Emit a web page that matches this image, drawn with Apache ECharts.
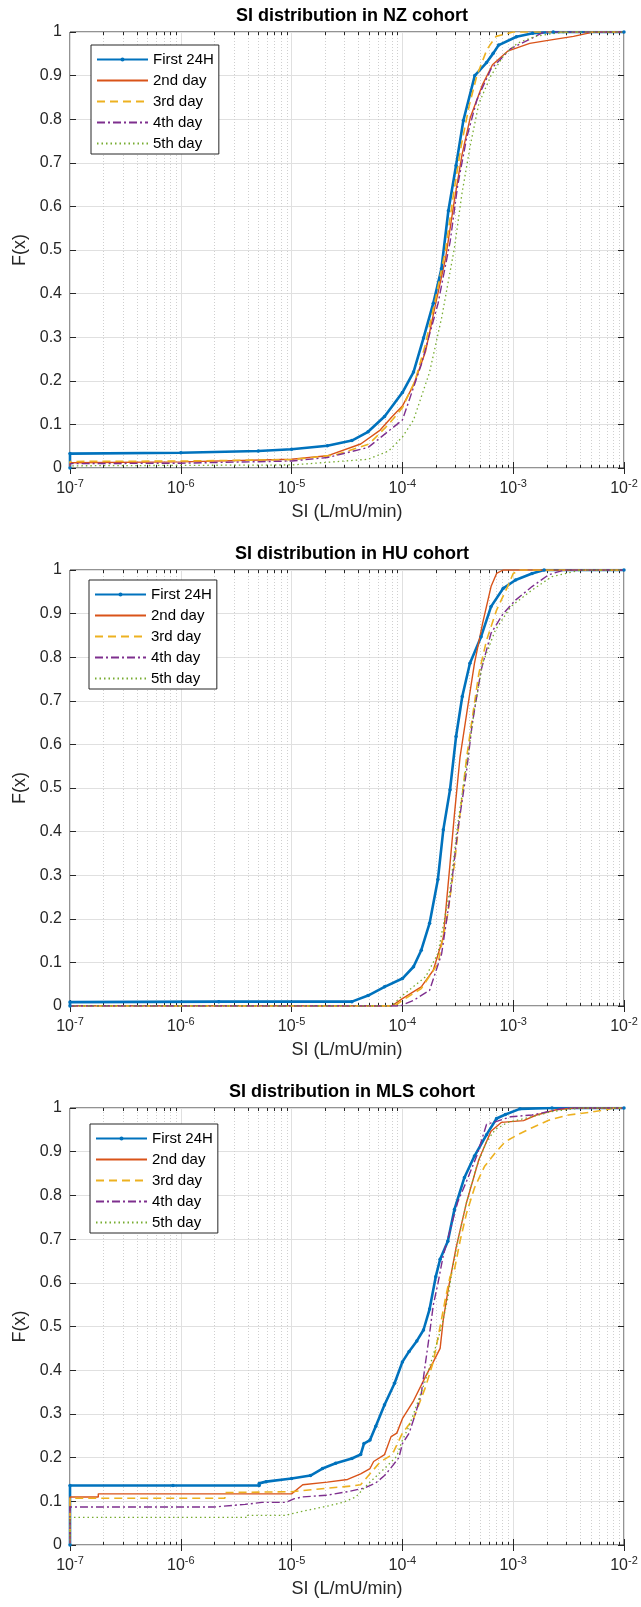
<!DOCTYPE html>
<html>
<head>
<meta charset="utf-8">
<script src="https://cdn.jsdelivr.net/npm/echarts@6/dist/echarts.min.js"></script>
<style>
  html, body { margin: 0; padding: 0; background: #fff; }
  #chart { width: 641px; height: 1607px; }
</style>
</head>
<body>
<div id="chart"></div>
<script>
// Empirical CDFs of insulin sensitivity (SI), as [SI, F(x)] pairs.
const dayNames = ['First 24H', '2nd day', '3rd day', '4th day', '5th day'];

// ---- NZ cohort ----
const nzFirst24H = [[1e-7,0],[1e-7,0.033],[1e-6,0.035],[5e-6,0.039],[1e-5,0.043],[2.1e-5,0.051],[3.5e-5,0.063],[4.9e-5,0.083],[6.9e-5,0.118],[1e-4,0.173],[1.26e-4,0.22],[1.55e-4,0.298],[1.9e-4,0.378],[2.25e-4,0.457],[2.6e-4,0.59],[3.05e-4,0.694],[3.55e-4,0.797],[4.5e-4,0.9],[5.75e-4,0.93],[6.6e-4,0.951],[7.4e-4,0.97],[1.07e-3,0.989],[1.5e-3,0.997],[2.3e-3,1],[1e-2,1]];
const nzDay2 = [[1e-7,0],[1e-7,0.012],[1e-6,0.014],[1e-5,0.02],[2.1e-5,0.028],[4.2e-5,0.055],[6.3e-5,0.087],[8.1e-5,0.118],[1e-4,0.142],[1.26e-4,0.19],[1.62e-4,0.268],[2e-4,0.378],[2.45e-4,0.48],[2.95e-4,0.615],[3.45e-4,0.718],[4.1e-4,0.804],[5.3e-4,0.88],[6.5e-4,0.925],[8.9e-4,0.956],[1.41e-3,0.974],[2.2e-3,0.982],[3.5e-3,0.99],[4.9e-3,0.998],[5.2e-3,1],[1e-2,1]];
const nzDay3 = [[1e-7,0],[1e-7,0.015],[1e-6,0.016],[1e-5,0.019],[2.5e-5,0.03],[5e-5,0.055],[7.5e-5,0.1],[1e-4,0.138],[1.3e-4,0.2],[1.6e-4,0.28],[2e-4,0.39],[2.45e-4,0.5],[2.9e-4,0.63],[3.4e-4,0.74],[4e-4,0.83],[4.7e-4,0.9],[5.8e-4,0.96],[7e-4,0.99],[1e-3,1],[1e-2,1]];
const nzDay4 = [[1e-7,0],[1e-7,0.01],[1e-6,0.011],[1e-5,0.016],[2.1e-5,0.024],[4.9e-5,0.047],[1e-4,0.11],[1.48e-4,0.237],[2.1e-4,0.378],[2.7e-4,0.52],[3.15e-4,0.647],[3.8e-4,0.757],[4.7e-4,0.844],[6.3e-4,0.915],[9.5e-4,0.962],[1.48e-3,0.986],[1.9e-3,1],[1e-2,1]];
const nzDay5 = [[1e-7,0],[1e-7,0.005],[1e-5,0.007],[4.9e-5,0.02],[7.5e-5,0.039],[1e-4,0.071],[1.26e-4,0.11],[1.76e-4,0.22],[2.27e-4,0.347],[2.95e-4,0.505],[3.45e-4,0.63],[4.1e-4,0.74],[4.9e-4,0.836],[6.3e-4,0.9],[8.3e-4,0.948],[1.1e-3,0.975],[1.6e-3,0.99],[2.5e-3,0.998],[3.5e-3,1],[1e-2,1]];

// ---- HU cohort ----
const huFirst24H = [[1e-7,0],[1e-7,0.009],[2.2e-6,0.01],[3.5e-5,0.01],[4.9e-5,0.024],[6.9e-5,0.044],[1e-4,0.063],[1.26e-4,0.09],[1.48e-4,0.128],[1.76e-4,0.19],[2.09e-4,0.29],[2.34e-4,0.404],[2.69e-4,0.496],[3.05e-4,0.618],[3.47e-4,0.71],[4.07e-4,0.786],[5.13e-4,0.847],[6.31e-4,0.916],[8.13e-4,0.958],[1.05e-3,0.977],[1.48e-3,0.992],[1.9e-3,1],[1e-2,1]];
const huDay2 = [[1e-7,0],[8e-5,0],[1e-4,0.017],[1.48e-4,0.044],[1.9e-4,0.082],[2.34e-4,0.158],[2.69e-4,0.326],[2.95e-4,0.44],[3.31e-4,0.57],[3.8e-4,0.67],[4.47e-4,0.786],[5.3e-4,0.878],[6.31e-4,0.962],[7.08e-4,0.992],[8.1e-4,1],[1e-2,1]];
const huDay3 = [[1e-7,0],[8.5e-5,0],[1e-4,0.013],[1.48e-4,0.04],[2.09e-4,0.097],[2.57e-4,0.212],[2.95e-4,0.326],[3.31e-4,0.44],[3.8e-4,0.57],[4.27e-4,0.66],[4.9e-4,0.763],[5.75e-4,0.839],[7.08e-4,0.908],[8.9e-4,0.962],[1e-3,0.992],[1.15e-3,1],[1e-2,1]];
const huDay4 = [[1e-7,0],[9e-5,0],[1e-4,0.002],[1.26e-4,0.013],[1.76e-4,0.036],[2.26e-4,0.12],[2.69e-4,0.25],[3.16e-4,0.403],[3.8e-4,0.54],[4.27e-4,0.647],[5.13e-4,0.77],[6.31e-4,0.855],[8.13e-4,0.9],[1.05e-3,0.931],[1.48e-3,0.962],[2.09e-3,0.989],[2.88e-3,1],[1e-2,1]];
const huDay5 = [[1e-7,0],[8e-5,0],[1e-4,0.024],[1.62e-4,0.067],[2.09e-4,0.12],[2.69e-4,0.266],[3.16e-4,0.418],[3.8e-4,0.556],[4.47e-4,0.68],[5.3e-4,0.786],[6.9e-4,0.862],[9.5e-4,0.916],[1.48e-3,0.954],[2.24e-3,0.985],[3.47e-3,0.996],[4.07e-3,1],[1e-2,1]];

// ---- MLS cohort ----
const mlsFirst24H = [[1e-7,0],[1e-7,0.136],[8.5e-7,0.136],[5.1e-6,0.136],[5.1e-6,0.141],[5.9e-6,0.145],[1e-5,0.152],[1.48e-5,0.159],[1.9e-5,0.175],[2.5e-5,0.187],[3.5e-5,0.198],[4.2e-5,0.207],[4.5e-5,0.232],[5.1e-5,0.24],[5.75e-5,0.272],[6.9e-5,0.321],[8.5e-5,0.37],[1e-4,0.419],[1.15e-4,0.443],[1.35e-4,0.467],[1.55e-4,0.492],[1.76e-4,0.54],[2e-4,0.614],[2.19e-4,0.654],[2.57e-4,0.695],[2.95e-4,0.768],[3.63e-4,0.841],[4.47e-4,0.89],[5.75e-4,0.939],[7.08e-4,0.976],[8.5e-4,0.985],[1.15e-3,0.998],[2.24e-3,1],[1e-2,1]];
const mlsDay2 = [[1e-7,0],[1e-7,0.11],[1.8e-7,0.11],[1.8e-7,0.117],[1e-5,0.117],[1.26e-5,0.138],[2.1e-5,0.144],[3.2e-5,0.15],[4.2e-5,0.163],[5.1e-5,0.175],[5.5e-5,0.191],[6.9e-5,0.207],[7.9e-5,0.248],[8.9e-5,0.256],[1e-4,0.289],[1.26e-4,0.33],[1.62e-4,0.386],[1.9e-4,0.419],[2.19e-4,0.45],[2.34e-4,0.516],[2.57e-4,0.58],[3.05e-4,0.68],[3.8e-4,0.785],[4.9e-4,0.882],[6.3e-4,0.947],[7.8e-4,0.967],[1.24e-3,0.971],[1.62e-3,0.984],[2.45e-3,0.996],[3.5e-3,1],[1e-2,1]];
const mlsDay3 = [[1e-7,0],[1e-7,0.107],[2.5e-6,0.107],[2.5e-6,0.12],[1e-5,0.122],[2.1e-5,0.13],[3.5e-5,0.135],[4.2e-5,0.138],[5.1e-5,0.163],[6.3e-5,0.19],[8.1e-5,0.207],[1e-4,0.256],[1.26e-4,0.289],[1.62e-4,0.362],[1.9e-4,0.419],[2.19e-4,0.5],[2.45e-4,0.565],[2.69e-4,0.614],[2.95e-4,0.63],[3.31e-4,0.695],[3.8e-4,0.76],[4.47e-4,0.817],[5.5e-4,0.866],[6.9e-4,0.898],[8.5e-4,0.923],[1.1e-3,0.939],[1.48e-3,0.955],[2.09e-3,0.972],[3.16e-3,0.984],[4.9e-3,0.99],[6.8e-3,0.996],[8.1e-3,1],[1e-2,1]];
const mlsDay4 = [[1e-7,0],[1e-7,0.087],[2e-6,0.087],[2e-6,0.09],[3.8e-6,0.093],[5.4e-6,0.0975],[8.9e-6,0.0975],[1.06e-5,0.106],[1.26e-5,0.11],[2.1e-5,0.114],[3.2e-5,0.122],[4.5e-5,0.13],[5.75e-5,0.142],[6.9e-5,0.159],[7.8e-5,0.175],[9.3e-5,0.2],[1e-4,0.232],[1.15e-4,0.256],[1.3e-4,0.297],[1.48e-4,0.346],[1.62e-4,0.419],[1.76e-4,0.484],[1.9e-4,0.549],[2.09e-4,0.598],[2.34e-4,0.663],[2.69e-4,0.72],[3.16e-4,0.785],[3.8e-4,0.833],[4.68e-4,0.89],[5.75e-4,0.963],[6.6e-4,0.967],[9.5e-4,0.98],[1.48e-3,0.984],[2.09e-3,0.992],[2.88e-3,1],[1e-2,1]];
const mlsDay5 = [[1e-7,0],[1e-7,0.063],[4e-6,0.063],[4e-6,0.068],[8.9e-6,0.068],[1.06e-5,0.073],[1.48e-5,0.081],[2.1e-5,0.089],[2.95e-5,0.098],[3.8e-5,0.11],[4.5e-5,0.13],[5.4e-5,0.15],[6.9e-5,0.175],[8.9e-5,0.203],[1e-4,0.24],[1.15e-4,0.272],[1.35e-4,0.321],[1.62e-4,0.378],[1.9e-4,0.435],[2.26e-4,0.5],[2.57e-4,0.565],[2.82e-4,0.63],[3.16e-4,0.695],[3.8e-4,0.785],[4.68e-4,0.866],[5.75e-4,0.923],[6.9e-4,0.951],[8.9e-4,0.967],[1.48e-3,0.98],[2.24e-3,0.992],[3.47e-3,0.998],[4.07e-3,1],[1e-2,1]];

// Axis range and minor (2..9 per decade) gridline positions
const xMin = 1e-7, xMax = 1e-2;
const decadeStarts = [1e-7, 1e-6, 1e-5, 1e-4, 1e-3];
const minorMultipliers = [2, 3, 4, 5, 6, 7, 8, 9];

const cohorts = [
  { title: 'SI distribution in NZ cohort',  series: [nzFirst24H, nzDay2, nzDay3, nzDay4, nzDay5] },
  { title: 'SI distribution in HU cohort',  series: [huFirst24H, huDay2, huDay3, huDay4, huDay5] },
  { title: 'SI distribution in MLS cohort', series: [mlsFirst24H, mlsDay2, mlsDay3, mlsDay4, mlsDay5] }
];

// Panel layout (pixels)
const panels = [
  { top: 32,   height: 436, titleTop: 2,    legendLeft: 91, legendTop: 45 },
  { top: 570,  height: 436, titleTop: 540,  legendLeft: 89, legendTop: 580 },
  { top: 1108, height: 437, titleTop: 1078, legendLeft: 90, legendTop: 1124 }
];
const plotLeft = 70, plotWidth = 554;

const FONT = "'Liberation Sans', Arial, Helvetica, sans-serif";
const AXIS_COLOR = '#262626';
const colors = ['#0072BD', '#D95319', '#EDB120', '#7E2F8E', '#77AC30'];
const lineStyles = [
  { width: 2.6, type: 'solid' },
  { width: 1.4, type: 'solid' },
  { width: 1.6, type: [8, 5] },
  { width: 1.4, type: [8, 3, 2, 3] },
  { width: 1.3, type: [1.5, 3] }
];

const minorTicks = [];
decadeStarts.forEach(d => minorMultipliers.forEach(m => minorTicks.push([m * d, 0])));

const chart = echarts.init(document.getElementById('chart'), null, { renderer: 'canvas' });

const option = {
  animation: false,
  backgroundColor: '#fff',
  title: [], grid: [], xAxis: [], yAxis: [], legend: [], series: []
};

function expLabel(v) {
  const e = Math.round(Math.log10(v));
  return '{b|10}{s|' + e + '}';
}

// legend entries: only the first series shows a point marker
const legendData = dayNames.map((n, d) => d === 0
  ? { name: n }
  : { name: n, itemStyle: { opacity: 0 } });

panels.forEach((p, i) => {
  option.title.push({
    text: cohorts[i].title,
    left: plotLeft + plotWidth / 2,
    textAlign: 'center',
    top: p.titleTop,
    textStyle: { fontFamily: FONT, fontSize: 18, fontWeight: 'bold', color: '#000' }
  });
  option.grid.push({
    left: plotLeft, top: p.top, width: plotWidth, height: p.height,
    show: true, borderColor: AXIS_COLOR, borderWidth: 1, backgroundColor: '#fff'
  });
  // bottom log axis with decade labels
  option.xAxis.push({
    type: 'log', logBase: 10, min: xMin, max: xMax, gridIndex: i,
    name: 'SI (L/mU/min)', nameLocation: 'middle', nameGap: 35,
    nameTextStyle: { fontFamily: FONT, fontSize: 18, color: AXIS_COLOR },
    axisLine: { show: false },
    axisTick: { show: true, inside: true, length: 6, lineStyle: { color: AXIS_COLOR } },
    axisLabel: {
      margin: 10, formatter: expLabel,
      rich: {
        b: { fontFamily: FONT, fontSize: 16, color: AXIS_COLOR, lineHeight: 22 },
        s: { fontFamily: FONT, fontSize: 11, color: AXIS_COLOR, lineHeight: 11, verticalAlign: 'top' }
      }
    },
    splitLine: { show: true, lineStyle: { color: '#e0e0e0', width: 1 } }
  });
  option.yAxis.push({
    type: 'value', min: 0, max: 1, interval: 0.1, gridIndex: i,
    name: 'F(x)', nameLocation: 'middle', nameGap: 36,
    nameTextStyle: { fontFamily: FONT, fontSize: 18, color: AXIS_COLOR },
    axisLine: { show: false },
    axisTick: { show: true, inside: true, length: 6, lineStyle: { color: AXIS_COLOR } },
    axisLabel: { margin: 8, fontFamily: FONT, fontSize: 16, color: AXIS_COLOR },
    splitLine: { show: true, lineStyle: { color: '#e0e0e0', width: 1 } }
  });
  option.legend.push({
    data: legendData,
    orient: 'vertical',
    left: p.legendLeft, top: p.legendTop,
    backgroundColor: '#fff', borderColor: AXIS_COLOR, borderWidth: 1, borderRadius: 0,
    padding: [7, 5, 3, 5],
    itemWidth: 51, itemHeight: 5, itemGap: 6,
    selectedMode: false,
    textStyle: { fontFamily: FONT, fontSize: 15, color: '#000', lineHeight: 15 }
  });
});

// top and right axes carry the mirrored ticks of the box
panels.forEach((p, i) => {
  option.xAxis.push({
    type: 'log', logBase: 10, min: xMin, max: xMax, gridIndex: i, position: 'top',
    axisLine: { show: false }, axisLabel: { show: false }, splitLine: { show: false },
    axisTick: { show: true, inside: true, length: 6, lineStyle: { color: AXIS_COLOR } }
  });
  option.yAxis.push({
    type: 'value', min: 0, max: 1, interval: 0.1, gridIndex: i, position: 'right',
    axisLine: { show: false }, axisLabel: { show: false }, splitLine: { show: false },
    axisTick: { show: true, inside: true, length: 6, lineStyle: { color: AXIS_COLOR } }
  });
});

panels.forEach((p, i) => {
  // minor dotted gridlines and minor ticks at 2..9 x 10^n
  option.series.push({
    type: 'custom', xAxisIndex: i, yAxisIndex: i, data: minorTicks, silent: true, z: 1,
    clip: false,
    renderItem: function (params, api) {
      const x = api.value(0);
      const b = api.coord([x, 0]);
      const t = api.coord([x, 1]);
      const px = Math.round(b[0]) + 0.5;
      return {
        type: 'group',
        children: [
          { type: 'line', shape: { x1: px, y1: b[1], x2: px, y2: t[1] },
            style: { stroke: '#cfcfcf', lineWidth: 1, lineDash: [1, 2] } },
          { type: 'line', shape: { x1: px, y1: b[1], x2: px, y2: b[1] - 3 },
            style: { stroke: AXIS_COLOR, lineWidth: 1 } },
          { type: 'line', shape: { x1: px, y1: t[1], x2: px, y2: t[1] + 3 },
            style: { stroke: AXIS_COLOR, lineWidth: 1 } }
        ]
      };
    }
  });
  cohorts[i].series.forEach((data, d) => {
    const first = d === 0;
    option.series.push({
      type: 'line', name: dayNames[d], xAxisIndex: i, yAxisIndex: i, data: data,
      z: 3,
      symbol: first ? 'circle' : 'none',
      symbolSize: 3.5,
      showSymbol: first,
      showAllSymbol: true,
      itemStyle: { color: colors[d] },
      lineStyle: { color: colors[d], width: lineStyles[d].width, type: lineStyles[d].type },
      emphasis: { disabled: true }
    });
  });
});

chart.setOption(option);
</script>
</body>
</html>
